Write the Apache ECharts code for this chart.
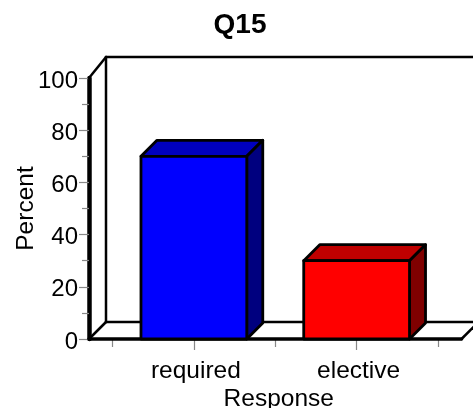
<!DOCTYPE html>
<html>
<head>
<meta charset="utf-8">
<style>html,body{margin:0;padding:0;background:#fff}#c{width:473px;height:408px}</style>
<script src="https://cdn.jsdelivr.net/npm/echarts@6/dist/echarts.min.js"></script>
</head>
<body>
<div id="c"></div>
<script>
const categories = ['required', 'elective'];
const percentValues = [70, 30];
const valueTicks = [0, 20, 40, 60, 80, 100];
const frontColors = ['#0000ff', '#ff0000'];
const topColors = ['#0000bf', '#bf0000'];
const sideColors = ['#00007f', '#7f0000'];

const font = 'Liberation Sans, Arial, sans-serif';
const DEPTH = 17, BAR_DEPTH = 16, SIDE_PAD = 23.5;
const chart = echarts.init(document.getElementById('c'), null, {renderer: 'canvas'});

function line(x1, y1, x2, y2, w) {
  return {type: 'line', shape: {x1, y1, x2, y2}, style: {stroke: '#000', lineWidth: w, lineCap: 'round'}};
}
function poly(points, fill) {
  return {type: 'polygon', shape: {points}, style: {fill, stroke: '#000', lineWidth: 2.8, lineJoin: 'round'}};
}
function renderFrame(params, api) {
  const cs = params.coordSys;
  const yBase = api.coord([0, 0])[1];
  const yTop = api.coord([0, valueTicks[valueTicks.length - 1]])[1];
  const xl = cs.x - SIDE_PAD, xr = cs.x + cs.width + SIDE_PAD;
  return {type: 'group', children: [
    line(xl + DEPTH, yTop - DEPTH - 4, xl + DEPTH, yBase - DEPTH, 2.5),
    line(xl + DEPTH, yTop - DEPTH - 4, xr + DEPTH + 10, yTop - DEPTH - 4, 2.5),
    line(xl + DEPTH, yBase - DEPTH, xr + DEPTH + 10, yBase - DEPTH, 2.5),
    line(xl, yTop, xl + DEPTH, yTop - DEPTH - 4, 2.5),
    line(xl, yBase, xl + DEPTH, yBase - DEPTH, 2.5),
    line(xr, yBase, xr + DEPTH, yBase - DEPTH, 2.5),
    line(xl, yBase, xr, yBase, 3.6)
  ]};
}
function renderBar(params, api) {
  const i = api.value(0);
  const top = api.coord([i, api.value(1)]);
  const base = api.coord([i, 0]);
  const half = api.size([1, 0])[0] * 0.325;
  const l = top[0] - half, r = top[0] + half, t = top[1], b = base[1], d = BAR_DEPTH;
  return {type: 'group', children: [
    poly([[l, t], [l + d, t - d], [r + d, t - d], [r, t]], topColors[i]),
    poly([[r, t], [r + d, t - d], [r + d, b - d], [r, b]], sideColors[i]),
    poly([[l, t], [r, t], [r, b], [l, b]], frontColors[i])
  ]};
}

chart.setOption({
  animation: false,
  backgroundColor: '#fff',
  title: {
    text: 'Q15', left: 235, top: 6, textAlign: 'center',
    textStyle: {fontFamily: font, fontSize: 28, fontWeight: 'bold', color: '#000'}
  },
  grid: {left: 112.5, width: 325.5, top: 78, height: 261, outerBoundsMode: 'none'},
  xAxis: [
    {
      type: 'category', data: categories, position: 'bottom',
      name: 'Response', nameLocation: 'middle', nameGap: 48, nameMoveOverlap: false,
      nameTextStyle: {fontFamily: font, fontSize: 24.5, color: '#000', padding: [0, 0, 0, 7]},
      axisLine: {show: false},
      axisTick: {show: true, alignWithLabel: false, length: 8, lineStyle: {color: '#888', width: 1.2}},
      axisLabel: {fontFamily: font, fontSize: 24.5, color: '#000', margin: 20, padding: [0, 0, 0, 4]},
      splitLine: {show: false}
    },
    {
      type: 'category', data: categories, position: 'bottom',
      axisLine: {show: false},
      axisTick: {show: true, alignWithLabel: true, length: 11, lineStyle: {color: '#888', width: 1.2}},
      axisLabel: {show: false},
      splitLine: {show: false}
    }
  ],
  yAxis: {
    type: 'value', min: 0, max: 100, interval: 20, offset: SIDE_PAD,
    name: 'Percent', nameLocation: 'middle', nameGap: 50, nameMoveOverlap: false,
    nameTextStyle: {fontFamily: font, fontSize: 24.5, color: '#000'},
    axisLine: {show: true, lineStyle: {color: '#000', width: 4.5}},
    axisTick: {show: true, length: 10, lineStyle: {color: '#888', width: 1.2}},
    minorTick: {show: true, splitNumber: 2, length: 7, lineStyle: {color: '#888', width: 1.2}},
    axisLabel: {fontFamily: font, fontSize: 24, color: '#000', margin: 11, verticalAlign: 'top', lineHeight: 6},
    splitLine: {show: false}
  },
  series: [
    {
      type: 'custom', coordinateSystem: 'cartesian2d', clip: false, z: 1,
      renderItem: renderFrame, data: [[0, 0]], silent: true
    },
    {
      type: 'custom', coordinateSystem: 'cartesian2d', clip: false, z: 3,
      renderItem: renderBar, encode: {x: 0, y: 1},
      data: categories.map((c, i) => [i, percentValues[i]])
    }
  ]
});
</script>
</body>
</html>
